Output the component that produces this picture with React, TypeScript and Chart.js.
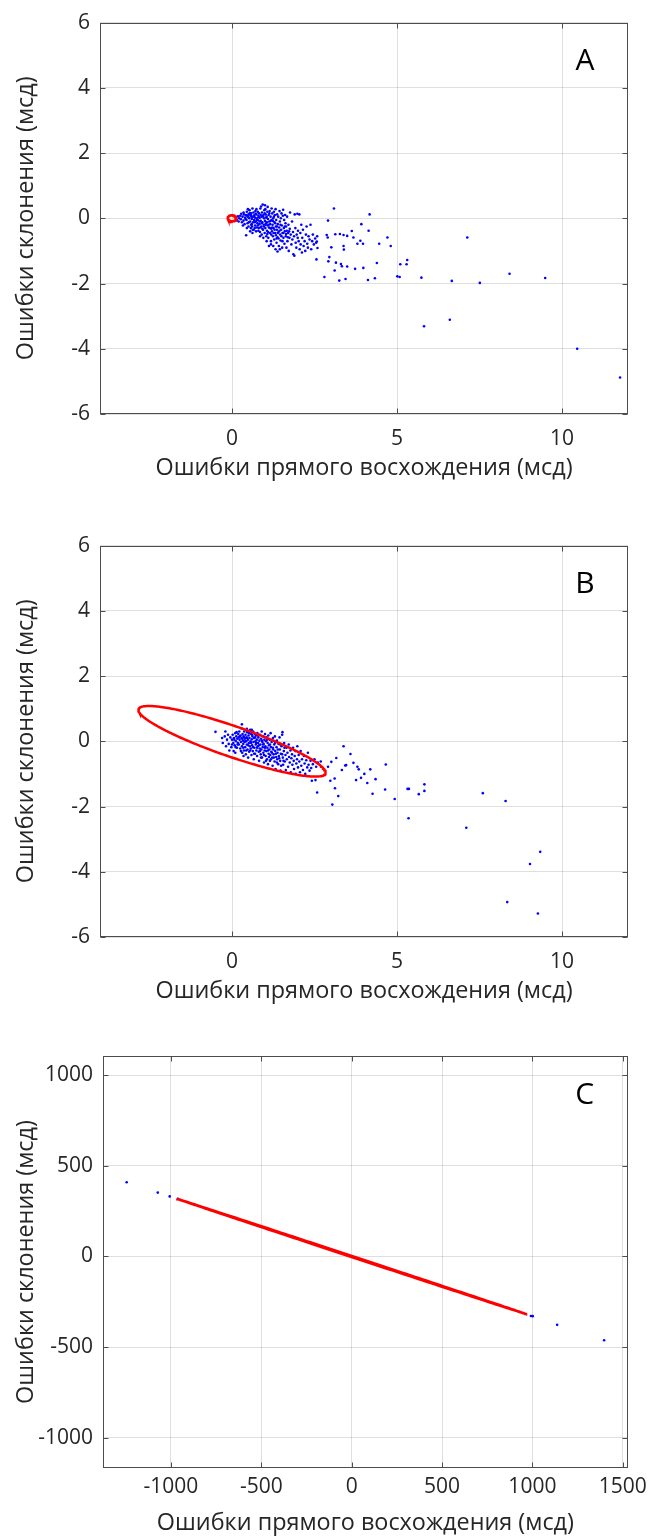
import React, { useEffect, useRef } from 'react';
import { Chart, registerables } from 'chart.js';

Chart.register(...registerables);

type Pt = [number, number];

// ---------- text ----------
const X_TITLE = 'Ошибки прямого восхождения (мсд)';
const Y_TITLE = 'Ошибки склонения (мсд)';

// ---------- axes ----------
const X_TICKS_AB = [0, 5, 10];
const Y_TICKS_AB = [-6, -4, -2, 0, 2, 4, 6];
const X_TICKS_C = [-1000, -500, 0, 500, 1000, 1500];
const Y_TICKS_C = [-1000, -500, 0, 500, 1000];

const X_RANGE_AB: Pt = [-4, 12];
const Y_RANGE_AB: Pt = [-6, 6];
const X_RANGE_C: Pt = [-1376, 1528];
const Y_RANGE_C: Pt = [-1166, 1105];

// ---------- panel A: dense group of residuals ----------
const CLUSTER_A: Pt[] = [
  [0.12, 0.02], [0.15, -0.05], [0.18, 0.06], [0.2, -0.1], [0.22, 0.0], [0.25, 0.08], [0.27, -0.03],
  [0.3, -0.12], [0.32, 0.05], [0.35, -0.07], [0.36, 0.12], [0.38, -0.18], [0.4, 0.02], [0.33, -0.22],
  [0.28, 0.14], [0.43, -0.52],
  [0.42, 0.1], [0.44, -0.05], [0.45, 0.2], [0.47, -0.15], [0.48, 0.05], [0.5, -0.25], [0.5, 0.12],
  [0.52, 0.0], [0.53, 0.25], [0.55, -0.1], [0.56, 0.08], [0.57, -0.3], [0.58, 0.15], [0.6, -0.02],
  [0.6, -0.18], [0.62, 0.3], [0.63, 0.05], [0.64, -0.12], [0.65, 0.18], [0.66, -0.35], [0.67, -0.05],
  [0.68, 0.1], [0.7, -0.22], [0.7, 0.02], [0.71, 0.22], [0.72, -0.1], [0.73, -0.4], [0.74, 0.12],
  [0.75, -0.28], [0.76, 0.0], [0.77, -0.15], [0.78, 0.2], [0.79, -0.06], [0.8, 0.08], [0.45, -0.3],
  [0.55, -0.4], [0.62, -0.45], [0.48, 0.28], [0.58, -0.2], [0.69, -0.3],
  [0.81, -0.3], [0.82, 0.15], [0.83, -0.18], [0.84, 0.02], [0.85, -0.42], [0.86, 0.3], [0.87, -0.08],
  [0.88, 0.36], [0.89, -0.25], [0.9, 0.05], [0.9, -0.5], [0.91, 0.18], [0.92, -0.12], [0.93, 0.42],
  [0.94, -0.35], [0.95, 0.1], [0.96, -0.2], [0.97, 0.0], [0.98, 0.25], [0.99, -0.45], [1.0, 0.4],
  [1.0, -0.08], [1.01, -0.3], [1.02, 0.12], [1.03, -0.15], [1.04, -0.55], [1.05, 0.05], [1.06, -0.38],
  [1.07, 0.2], [1.08, 0.35], [1.08, -0.22], [1.09, -0.02], [1.1, -0.6], [1.11, 0.1], [1.12, -0.28],
  [1.13, -0.1], [1.14, 0.22], [1.15, -0.45], [1.16, -0.18], [1.17, 0.05], [1.18, -0.7], [1.19, -0.32],
  [1.2, 0.3], [1.2, -0.05], [0.95, -0.6], [1.05, -0.7], [0.85, -0.55], [1.12, -0.85], [1.18, -0.8],
  [1.21, -0.4], [1.22, 0.15], [1.23, -0.2], [1.24, -0.55], [1.25, 0.0], [1.26, -0.3], [1.27, 0.2],
  [1.28, -0.65], [1.29, -0.12], [1.3, 0.1], [1.31, -0.45], [1.32, 0.28], [1.33, -0.25], [1.34, -0.05],
  [1.35, -0.75], [1.36, -0.35], [1.37, 0.12], [1.38, -0.58], [1.38, -1.02], [1.39, -0.18], [1.4, 0.05],
  [1.41, -0.42], [1.42, -0.85], [1.43, -0.28], [1.44, 0.22], [1.45, -0.1], [1.46, -0.5], [1.47, -0.68],
  [1.48, 0.0], [1.49, -0.35], [1.5, 0.15], [1.51, -0.22], [1.52, -0.9], [1.53, -0.45], [1.54, 0.08],
  [1.55, 0.26], [1.56, -0.6], [1.57, -0.3], [1.58, -0.05], [1.59, -0.78], [1.6, -0.4], [1.25, -0.85],
  [1.32, -0.95], [1.45, -0.95],
  [1.61, 0.1], [1.62, -0.15], [1.63, -0.55], [1.64, -0.25], [1.65, -0.9], [1.66, -0.38], [1.67, 0.05],
  [1.68, -0.7], [1.7, -0.45], [1.71, -0.2], [1.72, -1.0], [1.74, -0.6], [1.75, -0.32], [1.76, 0.18],
  [1.78, -0.5], [1.8, -0.8], [1.82, -0.1], [1.83, -0.65], [1.85, -0.42], [1.86, -1.1], [1.88, -0.55],
  [1.89, -1.15], [1.9, 0.12], [1.92, -0.3], [1.93, -0.75], [1.95, -0.9], [1.96, -0.5], [1.98, 0.14],
  [1.99, -0.6], [2.0, -0.38],
  [2.02, -0.7], [2.04, 0.12], [2.05, -0.95], [2.07, -0.45], [2.08, -0.8], [2.1, -0.2], [2.12, -1.05],
  [2.13, -0.6], [2.15, -0.35], [2.17, -0.85], [2.2, -0.7], [2.22, -1.0], [2.24, -0.5], [2.26, -0.25],
  [2.28, -0.78], [2.3, -0.9], [2.32, -0.55], [2.35, -0.65], [2.38, -0.2], [2.4, -0.95], [2.43, -0.7],
  [2.45, -0.5], [2.48, -0.8], [2.52, -0.62], [2.55, -0.75], [2.58, -0.55],
  [0.35, 0.18], [0.41, -0.02], [0.46, 0.08], [0.51, -0.12], [0.54, 0.16], [0.59, 0.04], [0.61, -0.25],
  [0.66, 0.06], [0.69, -0.12], [0.72, 0.14], [0.75, -0.05], [0.78, -0.22], [0.81, 0.04], [0.84, -0.1],
  [0.87, 0.1], [0.9, -0.15], [0.92, -0.32], [0.94, 0.06], [0.97, -0.25], [0.99, 0.15], [1.02, -0.2],
  [1.04, 0.02], [1.06, -0.12], [1.09, -0.42], [1.11, -0.2], [1.13, 0.15], [1.15, -0.3], [1.17, -0.08],
  [1.19, -0.5], [1.22, -0.28], [1.24, -0.08], [1.26, -0.45], [1.29, -0.35], [1.31, -0.15], [1.33, -0.52],
  [1.36, -0.25], [1.39, -0.45], [1.41, -0.62], [1.44, -0.38], [1.47, -0.2], [1.5, -0.55], [1.53, -0.7],
  [1.56, -0.45], [1.6, -0.25], [1.64, -0.48], [1.69, -0.58], [1.73, -0.4], [0.57, 0.1], [0.63, -0.35],
  [0.74, 0.28], [0.8, -0.38], [0.86, -0.28], [1.01, 0.28], [1.07, -0.48], [1.27, 0.05], [1.35, -0.62],
];

const OUTLIERS_A: Pt[] = [
  [3.09, 0.3], [4.17, 0.12], [3.92, -0.18], [2.91, -0.07], [4.14, -0.38], [3.63, -0.39], [3.27, -0.48],
  [3.13, -0.49], [2.87, -0.51], [3.38, -0.51], [3.49, -0.54], [2.9, -0.59], [3.68, -0.59], [7.13, -0.59],
  [4.71, -0.59], [3.89, -0.69], [3.8, -0.78], [3.97, -0.78], [4.46, -0.78], [4.81, -0.85], [3.01, -0.89],
  [3.38, -0.85], [3.39, -0.96], [2.57, -0.71], [2.59, -0.91], [2.56, -1.26], [2.95, -1.19], [2.92, -1.32],
  [3.15, -1.36], [3.3, -1.4], [3.33, -1.47], [3.49, -1.48], [3.73, -1.55], [3.98, -1.52], [4.39, -1.37],
  [3.11, -1.6], [5.31, -1.28], [5.29, -1.41], [5.1, -1.41], [2.8, -1.8], [3.25, -1.91], [3.44, -1.86],
  [4.12, -1.89], [4.33, -1.84], [5.01, -1.78], [5.08, -1.8], [5.74, -1.82], [6.66, -1.92], [7.51, -1.98],
  [8.41, -1.7], [9.49, -1.83], [5.82, -3.31], [6.6, -3.11], [10.46, -4.0], [11.76, -4.88],
];

// ---------- panel B: residuals after correction ----------
const CLUSTER_B: Pt[] = [
  [-0.5, 0.29], [-0.3, 0.1], [-0.28, -0.05], [-0.22, 0.15], [-0.18, -0.15], [-0.15, 0.05], [-0.12, 0.2],
  [-0.1, -0.08], [-0.05, 0.12], [-0.02, -0.18], [0.0, 0.05], [0.02, 0.2], [0.04, -0.05], [0.06, 0.1],
  [0.08, -0.12], [0.1, 0.25], [0.12, 0.0], [0.13, 0.15], [0.15, -0.2], [0.16, 0.08], [0.18, -0.05],
  [0.19, 0.22], [0.2, 0.12], [-0.08, -0.28], [0.05, -0.3],
  [0.21, -0.1], [0.22, 0.3], [0.23, 0.05], [0.25, -0.22], [0.26, 0.18], [0.27, -0.02], [0.28, 0.4],
  [0.29, 0.1], [0.3, 0.52], [0.3, -0.15], [0.31, -0.35], [0.32, 0.22], [0.33, 0.02], [0.34, -0.08],
  [0.35, 0.15], [0.36, -0.28], [0.37, 0.3], [0.38, -0.02], [0.39, 0.08], [0.4, -0.18], [0.41, 0.2],
  [0.42, -0.4], [0.43, 0.0], [0.44, 0.12], [0.45, -0.1], [0.46, 0.28], [0.47, -0.25], [0.48, 0.05],
  [0.49, -0.5], [0.5, 0.18], [0.51, -0.05], [0.52, -0.32], [0.53, 0.1], [0.54, -0.15], [0.55, 0.35],
  [0.56, 0.0], [0.57, -0.22], [0.58, 0.22], [0.59, -0.42], [0.6, 0.06],
  [0.61, -0.12], [0.62, 0.15], [0.63, -0.3], [0.64, 0.3], [0.65, -0.02], [0.66, -0.55], [0.67, 0.1],
  [0.68, -0.2], [0.69, 0.22], [0.7, -0.38], [0.71, 0.0], [0.72, -0.1], [0.73, 0.18], [0.74, -0.28],
  [0.75, 0.05], [0.76, -0.45], [0.77, 0.25], [0.78, -0.15], [0.79, -0.05], [0.8, 0.12], [0.81, -0.32],
  [0.82, -0.6], [0.83, 0.02], [0.84, -0.22], [0.85, 0.2], [0.86, -0.1], [0.87, -0.4], [0.88, 0.08],
  [0.89, -0.25], [0.9, 0.3], [0.91, -0.5], [0.92, -0.02], [0.93, -0.18], [0.94, 0.15], [0.95, -0.35],
  [0.96, -0.08], [0.97, -0.65], [0.98, 0.05], [0.99, -0.28], [1.0, 0.22],
  [1.01, -0.15], [1.02, -0.45], [1.03, 0.0], [1.04, -0.3], [1.05, 0.12], [1.06, -0.55], [1.07, -0.2],
  [1.08, -0.05], [1.09, -0.7], [1.1, 0.18], [1.11, -0.38], [1.12, -0.12], [1.13, -0.25], [1.14, 0.05],
  [1.15, -0.6], [1.16, -0.42], [1.17, 0.25], [1.18, -0.18], [1.19, -0.32], [1.2, -0.02], [1.22, -0.5],
  [1.23, -0.75], [1.24, 0.1], [1.25, -0.25], [1.26, -0.4], [1.28, -0.1], [1.29, -0.62], [1.3, 0.15],
  [1.31, -0.3], [1.32, -0.85], [1.34, -0.48], [1.35, -0.18], [1.36, 0.02], [1.37, -0.55], [1.38, -0.35],
  [1.4, -0.7], [1.41, -0.08], [1.42, -0.45], [1.44, 0.12], [1.45, -0.25], [1.46, -0.6], [1.47, -0.9],
  [1.48, -0.38], [1.5, -0.15], [1.52, 0.2], [1.53, 0.28],
  [1.54, -0.5], [1.55, -0.72], [1.57, -0.3], [1.58, -0.05], [1.6, -0.62], [1.62, -0.42], [1.63, -0.88],
  [1.65, -0.2], [1.66, -0.55], [1.68, -0.35], [1.7, -0.78], [1.72, -0.1], [1.73, -0.48], [1.75, -0.65],
  [1.77, -0.28], [1.78, -0.95], [1.8, -0.52], [1.82, -0.4], [1.83, -0.72], [1.85, -0.2], [1.87, -0.6],
  [1.88, -0.85], [1.9, -0.45], [1.92, -0.3], [1.93, -1.0], [1.95, -0.68], [1.97, -0.55], [1.98, -0.15],
  [2.0, -0.8],
  [2.02, -0.42], [2.04, -0.62], [2.06, -0.95], [2.08, -0.3], [2.1, -0.75], [2.12, -0.55], [2.15, -0.88],
  [2.18, -0.45], [2.2, -0.68], [2.22, -1.0], [2.25, -0.58], [2.28, -0.8], [2.3, -0.35], [2.32, -0.72],
  [2.35, -0.9], [2.38, -0.6], [2.4, -0.82], [2.45, -0.7], [2.5, -0.55], [2.53, -1.19], [2.55, -0.78],
  [2.6, -0.65],
  [0.0, -0.1], [0.07, 0.05], [0.11, -0.18], [0.14, 0.28], [0.17, -0.1], [0.24, 0.15], [0.27, -0.3],
  [0.31, 0.08], [0.34, -0.2], [0.37, 0.12], [0.4, 0.0], [0.43, -0.28], [0.46, 0.1], [0.49, -0.12],
  [0.52, 0.25], [0.55, -0.28], [0.58, -0.05], [0.61, 0.2], [0.64, -0.18], [0.67, -0.38], [0.7, 0.12],
  [0.73, -0.05], [0.76, -0.2], [0.79, 0.18], [0.82, -0.12], [0.85, -0.3], [0.88, -0.5], [0.91, 0.02],
  [0.94, -0.1], [0.97, -0.42], [1.0, -0.2], [1.03, -0.6], [1.06, 0.05], [1.09, -0.28], [1.12, -0.48],
  [1.15, -0.1], [1.18, -0.55], [1.21, -0.35], [1.24, -0.2], [1.27, -0.5], [1.3, -0.05], [1.33, -0.38],
  [1.36, -0.65], [1.39, -0.25], [1.43, -0.52], [1.46, -0.1], [1.49, -0.75], [1.52, -0.4], [1.56, -0.6],
  [1.59, -0.2], [0.45, 0.38], [0.6, 0.35], [0.35, -0.45], [0.1, -0.35], [-0.2, 0.3],
];

const OUTLIERS_B: Pt[] = [
  [3.38, -0.15], [3.59, -0.39], [3.68, -0.66], [3.46, -0.73], [3.33, -0.88], [3.16, -0.51], [3.01, -0.63],
  [2.91, -0.78], [2.98, -1.21], [3.11, -1.14], [3.12, -1.44], [3.22, -1.68], [3.04, -1.94], [2.58, -1.57],
  [2.42, -1.21], [3.8, -0.78], [3.84, -0.86], [4.01, -1.0], [3.91, -1.12], [3.76, -1.19], [4.1, -1.28],
  [4.19, -0.86], [4.35, -1.16], [4.66, -0.71], [4.26, -1.61], [4.64, -1.48], [4.93, -1.77], [5.32, -1.46],
  [5.36, -1.46], [5.66, -1.62], [5.83, -1.52], [5.83, -1.32], [5.35, -2.36], [7.1, -2.65], [7.6, -1.59],
  [8.29, -1.83], [9.34, -3.39], [9.03, -3.76], [8.34, -4.93], [9.27, -5.28], [2.69, -0.62], [3.43, -0.74],
];

// ---------- panel C: large-scale residuals ----------
const POINTS_C: Pt[] = [
  [-1245, 409], [-1073, 352], [-1007, 331], [-962, 318], [992, -328], [1002, -329], [1137, -377], [1397, -462],
];

// ---------- error ellipses (centre, semi-axes, rotation in degrees) ----------
const ELLIPSE_A = { cx: 0, cy: 0, a: 0.13, b: 0.09, angle: -10 };
const ELLIPSE_B = { cx: 0, cy: 0, a: 3.0, b: 0.47, angle: -19.2 };
const ELLIPSE_C = { cx: 0, cy: 0, a: 1016, b: 3, angle: -18.2 };

// ---------- styling ----------
const FONT = 'Open Sans';
const TEXT = '#262626';
const GRID = 'rgba(38,38,38,0.15)';
const BOX = '#4d4d4d';
const BLUE = '#0000ff';
const RED = '#ff0000';

type Ellipse = { cx: number; cy: number; a: number; b: number; angle: number };

function ellipseOutline(e: Ellipse, n = 240) {
  const t = (e.angle * Math.PI) / 180;
  const out: { x: number; y: number }[] = [];
  for (let i = 0; i <= n; i++) {
    const s = (2 * Math.PI * i) / n;
    const u = e.a * Math.cos(s);
    const v = e.b * Math.sin(s);
    out.push({ x: e.cx + u * Math.cos(t) - v * Math.sin(t), y: e.cy + u * Math.sin(t) + v * Math.cos(t) });
  }
  return out;
}

// box around the plot area, inward tick marks and the panel letter
const framePlugin = {
  id: 'frame',
  afterDraw(chart: any, _args: any, opts: any) {
    const { ctx, chartArea, scales } = chart;
    const { left, right, top, bottom } = chartArea;
    const L = Math.round(left) + 0.5;
    const R = Math.round(right) - 0.5;
    const T = Math.round(top) + 0.5;
    const B = Math.round(bottom) - 0.5;
    ctx.save();
    ctx.strokeStyle = BOX;
    ctx.lineWidth = 1;
    ctx.strokeRect(L, T, R - L, B - T);
    const len = 5;
    ctx.beginPath();
    scales.x.ticks.forEach((tk: any) => {
      const px = Math.round(scales.x.getPixelForValue(tk.value)) + 0.5;
      ctx.moveTo(px, B); ctx.lineTo(px, B - len);
      ctx.moveTo(px, T); ctx.lineTo(px, T + len);
    });
    scales.y.ticks.forEach((tk: any) => {
      const py = Math.round(scales.y.getPixelForValue(tk.value)) + 0.5;
      ctx.moveTo(L, py); ctx.lineTo(L + len, py);
      ctx.moveTo(R, py); ctx.lineTo(R - len, py);
    });
    ctx.stroke();
    ctx.fillStyle = '#000';
    ctx.font = `30px "${FONT}"`;
    ctx.textAlign = 'center';
    ctx.textBaseline = 'middle';
    ctx.fillText(opts.letter, right - 43, top + 39);
    ctx.restore();
  },
};

type PanelCfg = {
  letter: string;
  top: number;
  height: number;
  padTop: number;
  padRight: number;
  yAxisW: number;
  xAxisH: number;
  xLabelPad: number;
  xTitlePad: number;
  xRange: Pt;
  yRange: Pt;
  xTicks: number[];
  yTicks: number[];
  points: Pt[];
  ellipse: Ellipse;
};

function Panel({ cfg }: { cfg: PanelCfg }) {
  const ref = useRef<HTMLCanvasElement>(null);
  useEffect(() => {
    const tickFont = { family: FONT, size: 21 };
    const titleFont = { family: FONT, size: 23.4 };
    const chart = new Chart(ref.current as HTMLCanvasElement, {
      type: 'scatter',
      data: {
        datasets: [
          {
            data: ellipseOutline(cfg.ellipse),
            showLine: true,
            borderColor: RED,
            borderWidth: 2.5,
            pointRadius: 0,
            fill: false,
            tension: 0,
            order: 0,
          } as any,
          {
            data: cfg.points.map(([x, y]) => ({ x, y })),
            backgroundColor: BLUE,
            borderWidth: 0,
            pointRadius: 1.3,
            order: 1,
          },
        ],
      },
      options: {
        animation: false,
        responsive: false,
        events: [],
        layout: { padding: { top: cfg.padTop, right: cfg.padRight, left: 0, bottom: 0 } },
        plugins: {
          legend: { display: false },
          tooltip: { enabled: false },
          frame: { letter: cfg.letter },
        } as any,
        scales: {
          x: {
            type: 'linear',
            min: cfg.xRange[0],
            max: cfg.xRange[1],
            afterBuildTicks: (ax: any) => {
              ax.ticks = cfg.xTicks.map((v) => ({ value: v }));
            },
            afterFit: (s: any) => {
              s.height = cfg.xAxisH;
            },
            grid: { color: GRID, drawTicks: false, lineWidth: 1 },
            border: { display: false },
            ticks: {
              autoSkip: false,
              maxRotation: 0,
              padding: cfg.xLabelPad,
              font: tickFont,
              color: TEXT,
              callback: (v: any) => String(v),
            },
            title: {
              display: true,
              text: X_TITLE,
              font: titleFont,
              color: TEXT,
              padding: { top: 0, bottom: cfg.xTitlePad },
            },
          },
          y: {
            type: 'linear',
            min: cfg.yRange[0],
            max: cfg.yRange[1],
            afterBuildTicks: (ax: any) => {
              ax.ticks = cfg.yTicks.map((v) => ({ value: v }));
            },
            afterFit: (s: any) => {
              s.width = cfg.yAxisW;
            },
            grid: { color: GRID, drawTicks: false, lineWidth: 1 },
            border: { display: false },
            ticks: {
              autoSkip: false,
              padding: 10,
              font: tickFont,
              color: TEXT,
              callback: (v: any) => String(v),
            },
            title: {
              display: true,
              text: Y_TITLE,
              font: titleFont,
              color: TEXT,
              padding: { top: 12, bottom: 0 },
            },
          },
        },
      },
      plugins: [framePlugin],
    });
    return () => chart.destroy();
  }, [cfg]);
  return (
    <canvas
      ref={ref}
      width={653}
      height={cfg.height}
      style={{ position: 'absolute', left: 0, top: cfg.top, width: 653, height: cfg.height }}
    />
  );
}

const PANELS: PanelCfg[] = [
  {
    letter: 'A', top: 0, height: 500, padTop: 17, padRight: 25, yAxisW: 100, xAxisH: 86,
    xLabelPad: 12, xTitlePad: 18,
    xRange: X_RANGE_AB, yRange: Y_RANGE_AB, xTicks: X_TICKS_AB, yTicks: Y_TICKS_AB,
    points: [...CLUSTER_A, ...OUTLIERS_A], ellipse: ELLIPSE_A,
  },
  {
    letter: 'B', top: 523, height: 500, padTop: 17, padRight: 25, yAxisW: 100, xAxisH: 86,
    xLabelPad: 12, xTitlePad: 18,
    xRange: X_RANGE_AB, yRange: Y_RANGE_AB, xTicks: X_TICKS_AB, yTicks: Y_TICKS_AB,
    points: [...CLUSTER_B, ...OUTLIERS_B], ellipse: ELLIPSE_B,
  },
  {
    letter: 'C', top: 1023, height: 514, padTop: 33, padRight: 25, yAxisW: 103, xAxisH: 69,
    xLabelPad: 6, xTitlePad: 0,
    xRange: X_RANGE_C, yRange: Y_RANGE_C, xTicks: X_TICKS_C, yTicks: Y_TICKS_C,
    points: POINTS_C, ellipse: ELLIPSE_C,
  },
];

export default function App() {
  return (
    <div style={{ position: 'absolute', left: 0, top: 0, width: 653, height: 1537, background: '#fff' }}>
      {PANELS.map((p) => (
        <Panel key={p.letter} cfg={p} />
      ))}
    </div>
  );
}
